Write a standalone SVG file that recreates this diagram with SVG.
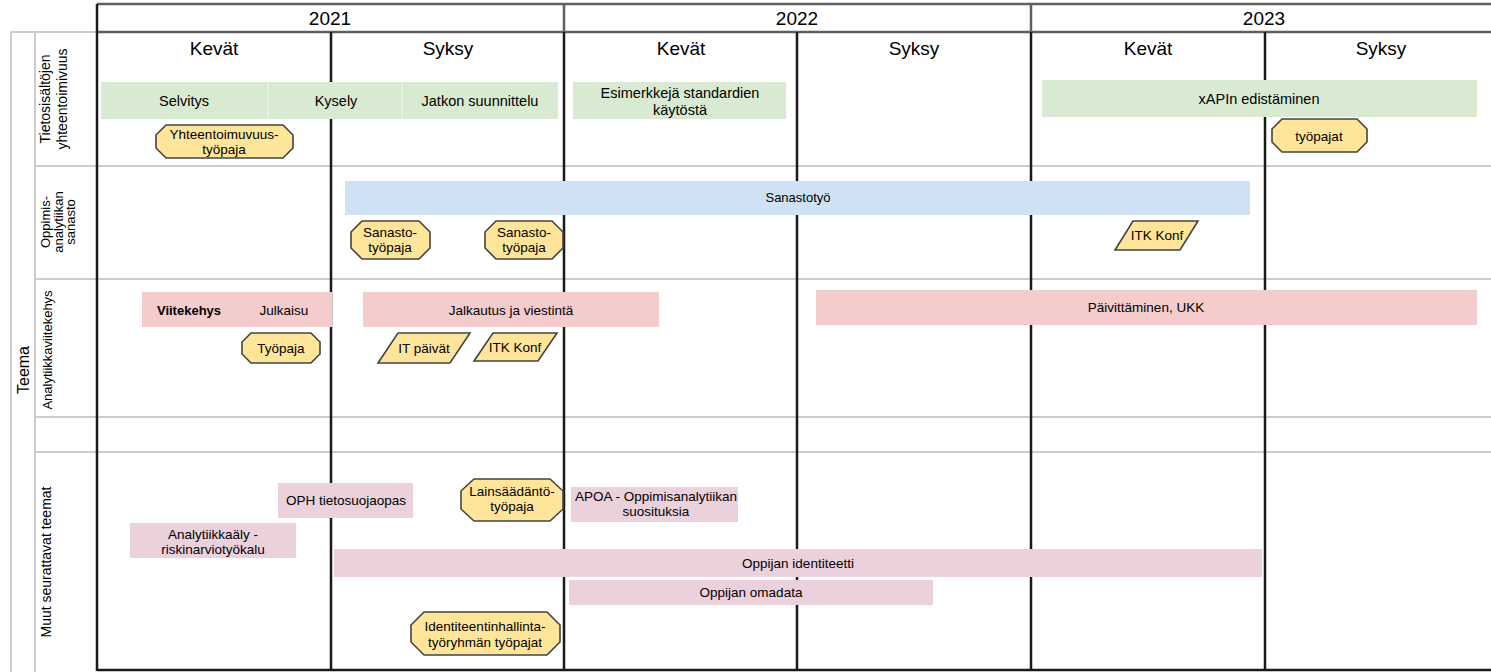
<svg xmlns="http://www.w3.org/2000/svg" width="1491" height="672" viewBox="0 0 1491 672">
<style>
text{font-family:"Liberation Sans",Arial,sans-serif;fill:#000}
.n{font-family:"Liberation Sans Narrow","Liberation Sans",Arial,sans-serif}
.yr{font-size:19px;text-anchor:middle}
.ss{font-size:19px;text-anchor:middle}
.lab{font-size:14px;text-anchor:middle}
.bt{font-size:14.5px;text-anchor:middle}
.st{font-size:13.5px;text-anchor:middle}
.grid{stroke:#1a1a1a;stroke-width:2.5;fill:none}
.hdr{stroke:#5f5f5f;stroke-width:2.5;fill:none}
.light{stroke:#cccccc;stroke-width:2;fill:none}
.green{fill:#d9ead3}
.blue{fill:#cfe2f3}
.pink{fill:#f4cccc}
.lpink{fill:#ead1dc}
.ev{fill:#ffe599;stroke:#434343;stroke-width:1.6}
</style>
<rect width="1491" height="672" fill="#ffffff"/>
<g id="grid">
<line class="light" x1="11" y1="32" x2="97" y2="32"/>
<line class="light" x1="11" y1="32" x2="11" y2="672"/>
<line class="light" x1="35" y1="32" x2="35" y2="672"/>
<line class="light" x1="35" y1="166" x2="1491" y2="166"/>
<line class="light" x1="35" y1="279" x2="1491" y2="279"/>
<line class="light" x1="35" y1="417" x2="1491" y2="417"/>
<line class="light" x1="35" y1="452" x2="1491" y2="452"/>
<line class="hdr" x1="97" y1="4" x2="1491" y2="4"/>
<line class="hdr" x1="97" y1="32" x2="1491" y2="32"/>
<line class="hdr" x1="564" y1="4" x2="564" y2="32"/>
<line class="hdr" x1="1031" y1="4" x2="1031" y2="32"/>
<line class="grid" x1="97" y1="4" x2="97" y2="671"/>
<line class="grid" x1="331" y1="32" x2="331" y2="671"/>
<line class="grid" x1="564" y1="32" x2="564" y2="671"/>
<line class="grid" x1="797" y1="32" x2="797" y2="671"/>
<line class="grid" x1="1031" y1="32" x2="1031" y2="671"/>
<line class="grid" x1="1265" y1="32" x2="1265" y2="671"/>
<line class="grid" x1="97" y1="670" x2="1491" y2="670"/>
</g>
<g id="headers">
<text class="yr" x="330" y="25">2021</text>
<text class="yr" x="797" y="25">2022</text>
<text class="yr" x="1264" y="25">2023</text>
<text class="ss" x="214" y="55">Kevät</text>
<text class="ss" x="448" y="55">Syksy</text>
<text class="ss" x="681" y="55">Kevät</text>
<text class="ss" x="914" y="55">Syksy</text>
<text class="ss" x="1148" y="55">Kevät</text>
<text class="ss" x="1381" y="55">Syksy</text>
</g>
<g id="row-labels">
<text style="font-size:16px;text-anchor:middle" transform="translate(29,370) rotate(-90)">Teema</text>
<text class="lab" transform="translate(50,99) rotate(-90)">Tietosisältöjen<tspan x="0" dy="17">yhteentoimivuus</tspan></text>
<text style="font-size:13px;text-anchor:middle" transform="translate(50,222) rotate(-90)">Oppimis-<tspan x="0" dy="12.5">analytiikan</tspan><tspan x="0" dy="12.5">sanasto</tspan></text>
<text style="font-size:13px;text-anchor:middle" transform="translate(52,350) rotate(-90)">Analytiikkaviitekehys</text>
<text class="lab" transform="translate(51,562) rotate(-90)">Muut seurattavat teemat</text>
</g>
<g id="selvitys-kysely-jatko">
<rect class="green" x="101" y="82" width="457" height="37"/>
<line x1="268" y1="82" x2="268" y2="119" stroke="#eef6ec" stroke-width="1"/>
<line x1="402" y1="82" x2="402" y2="119" stroke="#eef6ec" stroke-width="1"/>
<text class="bt" x="184" y="106">Selvitys</text>
<text class="bt" x="336" y="106">Kysely</text>
<text class="bt" x="480" y="106">Jatkon suunnittelu</text>
</g>
<g id="esimerkkeja">
<rect class="green" x="573" y="82" width="213" height="37"/>
<text class="bt" x="680" y="98">Esimerkkejä standardien<tspan x="680" dy="17">käytöstä</tspan></text>
</g>
<g id="xapi">
<rect class="green" x="1042" y="80" width="435" height="37"/>
<text class="bt" x="1259" y="104">xAPIn edistäminen</text>
</g>
<g id="yhteentoimivuus-tyopaja">
<polygon class="ev" points="166,125 283,125 293,135 293,148 283,158 166,158 156,148 156,135"/>
<text class="st" x="224" y="139">Yhteentoimuvuus-<tspan x="224" dy="15">työpaja</tspan></text>
</g>
<g id="tyopajat">
<polygon class="ev" points="1282,119 1357,119 1367,129 1367,142 1357,152 1282,152 1272,142 1272,129"/>
<text class="st" x="1319" y="141">työpajat</text>
</g>
<g id="sanastotyo">
<rect class="blue" x="345" y="181" width="905" height="34"/>
<text style="font-size:13px;text-anchor:middle" x="798" y="202">Sanastotyö</text>
</g>
<g id="sanasto-tyopaja-1">
<polygon class="ev" points="362,221 419,221 430,232 430,248 419,259 362,259 351,248 351,232"/>
<text class="n st" x="390" y="237">Sanasto-<tspan x="390" dy="15">työpaja</tspan></text>
</g>
<g id="sanasto-tyopaja-2">
<polygon class="ev" points="496,221 552,221 563,232 563,248 552,259 496,259 485,248 485,232"/>
<text class="n st" x="524" y="237">Sanasto-<tspan x="524" dy="15">työpaja</tspan></text>
</g>
<g id="itk-konf-2023">
<polygon class="ev" points="1115,250 1133,221 1198,221 1180,250"/>
<text class="n st" x="1157" y="240">ITK Konf</text>
</g>
<g id="viitekehys-julkaisu">
<rect class="pink" x="142" y="292" width="190" height="35"/>
<text style="font-size:13px;font-weight:bold;text-anchor:middle" x="189" y="315">Viitekehys</text>
<text class="n st" x="284" y="315">Julkaisu</text>
</g>
<g id="jalkautus">
<rect class="pink" x="363" y="292" width="296" height="35"/>
<text class="n st" x="511" y="315">Jalkautus ja viestintä</text>
</g>
<g id="paivittaminen">
<rect class="pink" x="816" y="290" width="661" height="35"/>
<text style="font-size:13.5px;text-anchor:middle" x="1146" y="312">Päivittäminen, UKK</text>
</g>
<g id="tyopaja">
<polygon class="ev" points="251,333 311,333 320,342 320,354 311,363 251,363 242,354 242,342"/>
<text class="n st" x="281" y="353">Työpaja</text>
</g>
<g id="it-paivat">
<polygon class="ev" points="378,363 398,333 470,333 450,363"/>
<text class="n st" x="424" y="353">IT päivät</text>
</g>
<g id="itk-konf-2021">
<polygon class="ev" points="474,361 493,333 557,333 538,361"/>
<text class="n st" x="515" y="352">ITK Konf</text>
</g>
<g id="oph-tietosuojaopas">
<rect class="lpink" x="278" y="483" width="135" height="35"/>
<text class="n st" x="346" y="505">OPH tietosuojaopas</text>
</g>
<g id="lainsaadanto-tyopaja">
<polygon class="ev" points="474,479 550,479 563,491 563,509 550,521 474,521 461,509 461,491"/>
<text class="n st" x="512" y="496">Lainsäädäntö-<tspan x="512" dy="15">työpaja</tspan></text>
</g>
<g id="apoa">
<rect class="lpink" x="571" y="487" width="167" height="35"/>
<text class="n st" x="656" y="501">APOA - Oppimisanalytiikan<tspan x="656" dy="15">suosituksia</tspan></text>
</g>
<g id="analytiikkaaly">
<rect class="lpink" x="130" y="523" width="166" height="35"/>
<text class="n st" x="213" y="539">Analytiikkaäly -<tspan x="213" dy="15">riskinarviotyökalu</tspan></text>
</g>
<g id="oppijan-identiteetti">
<rect class="lpink" x="334" y="549" width="928" height="28"/>
<text class="n st" x="798" y="568">Oppijan identiteetti</text>
</g>
<g id="oppijan-omadata">
<rect class="lpink" x="569" y="580" width="364" height="25"/>
<text class="n st" x="751" y="597">Oppijan omadata</text>
</g>
<g id="identiteetinhallinta-tyopajat">
<polygon class="ev" points="424,612 547,612 560,625 560,642 547,655 424,655 411,642 411,625"/>
<text class="n st" x="485" y="631">Identiteentinhallinta-<tspan x="485" dy="16">työryhmän työpajat</tspan></text>
</g>
<g id="connectors"></g>
</svg>
